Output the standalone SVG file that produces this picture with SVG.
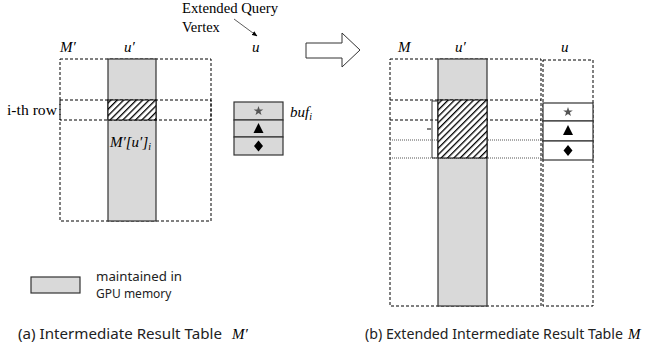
<svg xmlns="http://www.w3.org/2000/svg" width="663" height="347" viewBox="0 0 663 347">
  <style>
    .dash { fill: none; stroke: #000; stroke-width: 1; stroke-dasharray: 3 2; }
    .dot { fill: none; stroke: #555; stroke-width: 1; stroke-dasharray: 1 1; }
    .col { fill: #d9d9d9; stroke: #333; stroke-width: 1.2; }
    .hatch { fill: url(#hatch); stroke: #000; stroke-width: 1; }
    .math { font-family: "Liberation Serif", "DejaVu Serif", serif; font-style: italic; fill: #000; }
    .serif { font-family: "Liberation Serif", serif; fill: #000; }
    .sans { font-family: "Noto Sans", "Liberation Sans", sans-serif; fill: #222; }
    .buf { stroke: #333; stroke-width: 1.2; }
  </style>
  <defs>
    <pattern id="hatch" patternUnits="userSpaceOnUse" width="4.5" height="4.5" patternTransform="rotate(45)">
      <rect width="4.5" height="4.5" fill="#fff"/>
      <line x1="0" y1="0" x2="0" y2="4.5" stroke="#000" stroke-width="2.6"/>
    </pattern>
    <marker id="tip" viewBox="0 0 10 10" refX="9" refY="5" markerWidth="7" markerHeight="7" orient="auto">
      <path d="M0,1 L10,5 L0,9 z" fill="#000"/>
    </marker>
    <path id="star" d="M0,-5 L1.2,-1.6 L4.8,-1.6 L1.9,0.6 L3,4 L0,2 L-3,4 L-1.9,0.6 L-4.8,-1.6 L-1.2,-1.6 z"/>
  </defs>

  <!-- (a) intermediate result table M' -->
  <g id="table-a">
    <rect class="dash" x="60" y="59" width="151" height="162"/>
    <rect class="col" x="108" y="59" width="48" height="162"/>
    <rect class="dash" x="60" y="100" width="151" height="20"/>
    <rect class="hatch" x="108" y="100" width="48" height="20"/>
    <text class="math" x="60" y="52" font-size="15">M′</text>
    <text class="math" x="124" y="52" font-size="15">u′</text>
    <text class="math" x="110" y="147" font-size="15">M′[u′]<tspan font-size="10" dy="3">i</tspan></text>
    <text class="serif" x="7" y="115" font-size="15" textLength="50" lengthAdjust="spacingAndGlyphs">i-th row</text>
  </g>

  <!-- buffer of candidate vertices -->
  <g id="buf-a">
    <rect x="234" y="102" width="49" height="18" fill="#d9d9d9" class="buf"/>
    <rect x="234" y="120" width="49" height="17" fill="#d9d9d9" class="buf"/>
    <rect x="234" y="137" width="49" height="18" fill="#d9d9d9" class="buf"/>
    <use href="#star" x="258.5" y="111" fill="#555"/>
    <path d="M258.5,123 L263.5,133 L253.5,133 z" fill="#000"/>
    <path d="M258.5,140.5 L263,146 L258.5,151.5 L254,146 z" fill="#000"/>
    <text class="math" x="290" y="117" font-size="15">buf<tspan font-size="10" dy="3">i</tspan></text>
  </g>

  <!-- extended query vertex label -->
  <g id="query-vertex">
    <text class="serif" x="182" y="13" font-size="14.5" textLength="96" lengthAdjust="spacingAndGlyphs">Extended Query</text>
    <text class="serif" x="182" y="32" font-size="14.5">Vertex</text>
    <text class="math" x="252" y="52" font-size="15">u</text>
  </g>

  <!-- connectors -->
  <g id="connectors">
    <line x1="234" y1="19" x2="257" y2="36" stroke="#333" stroke-width="0.8" marker-end="url(#tip)"/>
    <path d="M306,43 L342,43 L342,33 L360,50 L342,67 L342,58 L306,58 z" fill="#fff" stroke="#333" stroke-width="1"/>
  </g>

  <!-- (b) extended intermediate result table M -->
  <g id="table-b">
    <rect class="dash" x="390" y="59" width="151" height="247"/>
    <rect class="col" x="438" y="59" width="49" height="247"/>
    <line class="dash" x1="390" y1="100" x2="541" y2="100"/>
    <line class="dash" x1="390" y1="120" x2="541" y2="120"/>
    <line class="dot" x1="390" y1="140" x2="541" y2="140"/>
    <line class="dot" x1="390" y1="158" x2="541" y2="158"/>
    <rect class="hatch" x="438" y="100" width="49" height="58"/>
    <path d="M437,101 L432,101 L432,158 L437,158" fill="none" stroke="#333" stroke-width="1"/>
    <line x1="427" y1="129" x2="431" y2="129" stroke="#333" stroke-width="1.2"/>
    <text class="math" x="398" y="52" font-size="15">M</text>
    <text class="math" x="455" y="52" font-size="15">u′</text>
    <text class="math" x="561" y="52" font-size="15">u</text>
  </g>

  <g id="column-u">
    <rect class="dash" x="543" y="60" width="50" height="246"/>
    <rect x="543" y="103" width="50" height="18" fill="#fff" class="buf"/>
    <rect x="543" y="121" width="50" height="20" fill="#fff" class="buf"/>
    <rect x="543" y="141" width="50" height="19" fill="#fff" class="buf"/>
    <use href="#star" x="568" y="112" fill="#555"/>
    <path d="M568,125 L573,135 L563,135 z" fill="#000"/>
    <path d="M568,145 L572.5,150.5 L568,156 L563.5,150.5 z" fill="#000"/>
  </g>

  <!-- legend -->
  <g id="legend">
    <rect class="col" x="31" y="277" width="49" height="16"/>
    <text class="sans" x="96" y="281" font-size="12" textLength="86" lengthAdjust="spacingAndGlyphs">maintained in</text>
    <text class="sans" x="96" y="297.5" font-size="12">GPU memory</text>
  </g>

  <!-- captions -->
  <g id="captions">
    <text class="sans" x="18" y="339" font-size="14.5" textLength="204" lengthAdjust="spacingAndGlyphs">(a) Intermediate Result Table</text>
    <text class="math" x="232" y="339" font-size="15">M′</text>
    <text class="sans" x="365" y="339" font-size="14.5" textLength="258" lengthAdjust="spacingAndGlyphs">(b) Extended Intermediate Result Table</text>
    <text class="math" x="628" y="339" font-size="15">M</text>
  </g>
</svg>
